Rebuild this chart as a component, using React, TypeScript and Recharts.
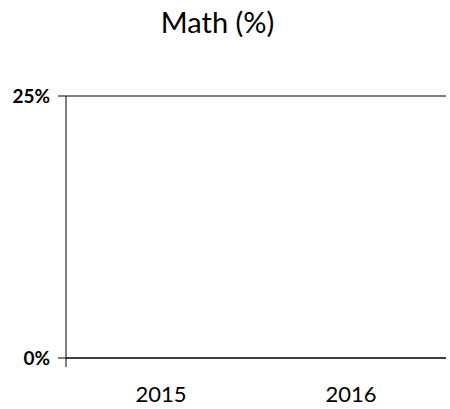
import { BarChart, Bar, XAxis, YAxis, CartesianGrid } from 'recharts';

const years = ['2015', '2016'];
const mathValues = [0, 0];
const yTicks = [0, 25];
const edgeTicks = [0, 1, 2];

const data = years.map((year, i) => ({ year, math: mathValues[i] }));

const font = 'Lato, "Open Sans", sans-serif';

export default function App() {
  return (
    <div style={{ position: 'absolute', left: 0, top: 0, width: 450, height: 409, fontFamily: font }}>
      <div
        style={{
          position: 'absolute',
          top: 5,
          left: 0,
          width: 435,
          textAlign: 'center',
          fontSize: 29,
          color: '#000',
          lineHeight: 1.2,
        }}
      >
        Math (%)
      </div>
      <BarChart width={450} height={409} data={data} margin={{ top: 96, right: 4, bottom: 0, left: 0 }}>
        <CartesianGrid vertical={false} stroke="#000" strokeDasharray="" />
        <XAxis
          xAxisId="a-edge"
          type="number"
          domain={[0, 2]}
          ticks={edgeTicks}
          tickFormatter={() => ''}
          height={9}
          tickSize={9}
          stroke="#000"
          allowDataOverflow
        />
        <XAxis
          xAxisId="b-cat"
          dataKey="year"
          height={42}
          axisLine={false}
          tickLine={false}
          tickSize={6}
          tickMargin={13}
          tick={{ fill: '#000', fontSize: 22, fontFamily: font }}
        />
        <YAxis
          width={66}
          domain={[0, 25]}
          ticks={yTicks}
          tickFormatter={(v) => `${v}%`}
          tickSize={8}
          tickMargin={8}
          stroke="#000"
          tick={{ fill: '#000', fontSize: 19, fontWeight: 'bold', fontFamily: font }}
        />
        <Bar xAxisId="b-cat" dataKey="math" fill="#4472c4" isAnimationActive={false} />
      </BarChart>
    </div>
  );
}
